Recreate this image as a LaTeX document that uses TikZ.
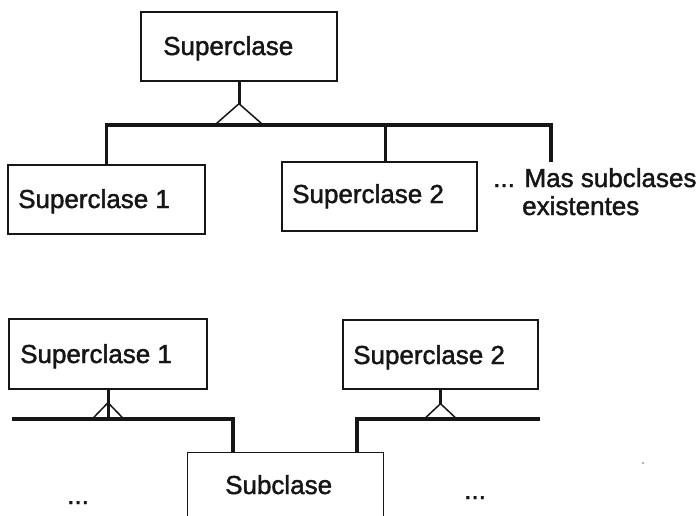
\documentclass[tikz,border=0pt]{standalone}
\usepackage{fontspec}
\setmainfont{Liberation Sans}[FakeBold=1.6]
\usetikzlibrary{calc}
\definecolor{ink}{HTML}{161616}
\begin{document}
\begin{tikzpicture}[x=1pt,y=-1pt,
  box/.style={draw=ink, line width=1.4pt, rectangle, inner sep=0pt},
  lbl/.style={anchor=base west, inner sep=0pt, font=\fontsize{26}{30}\selectfont, text=ink},
  bus/.style={draw=ink, line width=3.2pt, line join=miter},
  stem/.style={draw=ink, line width=3pt},
  tri/.style={draw=ink, line width=1.5pt}]
\useasboundingbox (0,0) rectangle (698,515);
\fill[white] (0,0) rectangle (698,515);
\clip (0,0) rectangle (698,515);

% ---- generalisation: one superclass, several subclasses ----
\node[box, minimum width=196, minimum height=69] (sup) at (239,46.5) {};
\node[lbl] (supT) at (163,55) {Superclase};
\node[box, minimum width=197, minimum height=69] (s1) at (106.5,199.5) {};
\node[lbl] (s1T) at (18,208) {Superclase 1};
\node[box, minimum width=195, minimum height=69] (s2) at (379.5,196.5) {};
\node[lbl] (s2T) at (292,203) {Superclase 2};
\node[lbl] (more1) at (493,187) {... Mas subclases};
\node[lbl] (more2) at (522,215) {existentes};

\draw[stem] (sup.south) -- ++(0,22) coordinate (a0);
\draw[tri] (a0) -- ++(-25,22) (a0) -- ++(25,22);
\coordinate (mtop) at (551,125);
\coordinate (mend) at (551,162);
\draw[bus] (s1.north) |- (mtop) -- (mend);
\draw[stem] ($(s2.north)+(5.5,0)$) -- ++(0,-37);

% ---- multiple inheritance: one subclass, two superclasses ----
\node[box, minimum width=198, minimum height=70] (b1) at (108,354) {};
\node[lbl] (b1T) at (20,363) {Superclase 1};
\node[box, minimum width=195, minimum height=69] (b2) at (440.5,354.5) {};
\node[lbl] (b2T) at (353,364) {Superclase 2};
\node[box, minimum width=196, minimum height=120, anchor=north west] (sub) at (187,452) {};
\node[lbl] (subT) at (225,494) {Subclase};
\node[lbl] (dl) at (67,504) {...};
\node[lbl] (dr) at (464,499) {...};

\draw[stem] (b1.south) -- ++(0,30);
\draw[tri] ($(b1.south)+(0,13)$) coordinate (a1) -- ++(-16.5,17) (a1) -- ++(16.5,17);
\coordinate (l0) at (12,419);
\draw[bus] (l0) -| ($(sub.north west)+(46,0)$);

\draw[stem] (b2.south) -- ++(0,14) coordinate (a2);
\draw[tri] (a2) -- ++(-16,15) (a2) -- ++(16,15);
\coordinate (r0) at (540,419);
\draw[bus] (r0) -| ($(sub.north west)+(170,0)$);

\fill[ink!45] (643,463) circle (1.2);
\end{tikzpicture}
\end{document}
